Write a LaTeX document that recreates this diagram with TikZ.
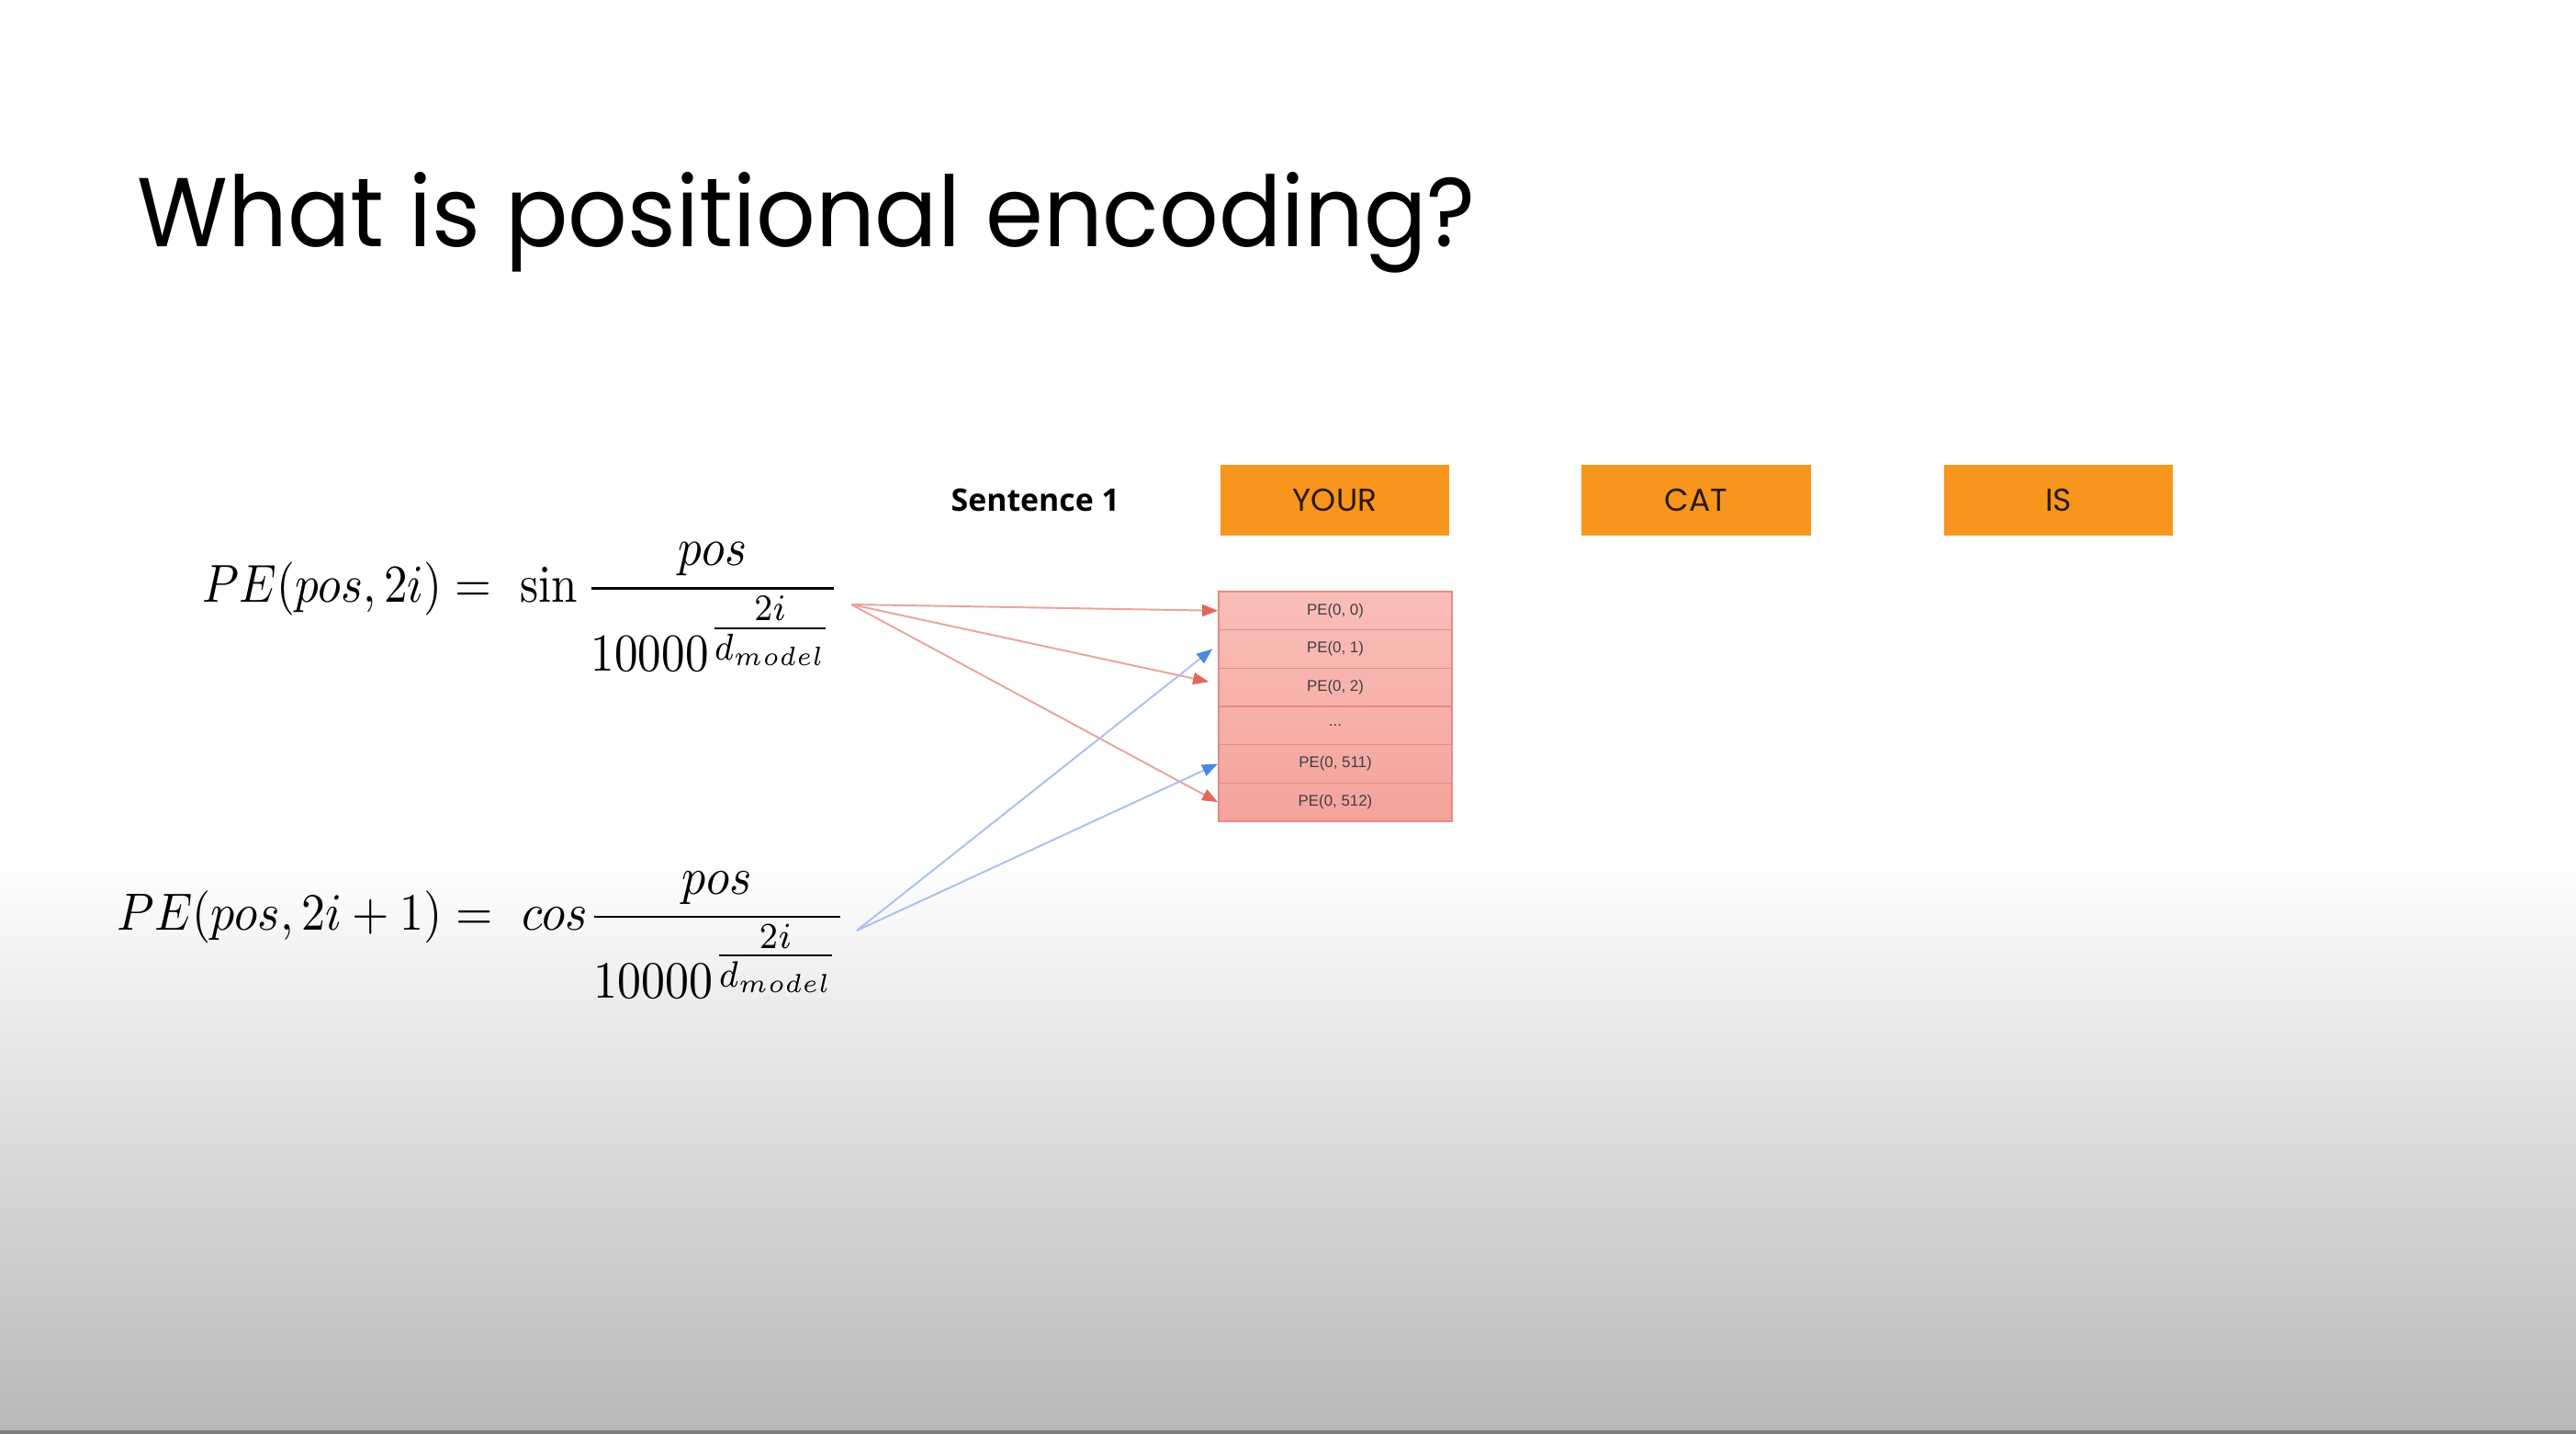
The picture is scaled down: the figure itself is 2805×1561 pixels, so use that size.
\documentclass[tikz,border=0pt]{standalone}
\usepackage{fontspec}
\usepackage{amsmath}
\usetikzlibrary{arrows.meta,calc}
\newfontfamily\titlefont{Poppins}
\newfontfamily\labelfont{Open Sans}
\newfontfamily\cellfont{Liberation Sans}

\definecolor{tokenorange}{HTML}{F8951D}
\definecolor{tokentext}{HTML}{2A1A0A}
\definecolor{celltop}{HTML}{F9BEB9}
\definecolor{cellbot}{HTML}{F4A39B}
\definecolor{cellrule}{HTML}{E58A82}
\definecolor{celltext}{HTML}{404040}
\definecolor{sinline}{HTML}{EBA39B}
\definecolor{sinhead}{HTML}{E2685C}
\definecolor{cosline}{HTML}{A8C2EC}
\definecolor{coshead}{HTML}{4A89E0}
\definecolor{floorgray}{HTML}{B8B8B8}
\definecolor{edgegray}{HTML}{7E7E7E}

% denominator of the positional-encoding frequency term
\newcommand{\peden}{10000^{\textstyle\frac{\scriptstyle 2i}{\scriptstyle d_{model}}}}

\begin{document}
\begin{tikzpicture}[x=0.01cm,y=-0.01cm,
  tokenbox/.style={fill=tokenorange, minimum width=2.49cm, minimum height=0.77cm,
    inner sep=0, font=\titlefont\fontsize{9.8}{11}\selectfont, text=tokentext},
  cell/.style={draw=cellrule, line width=0.45pt, minimum width=2.54cm,
    minimum height=0.4167cm, inner sep=0,
    font=\cellfont\fontsize{4.8}{6}\selectfont, text=celltext},
  sinarrow/.style={draw=sinline, line width=0.55pt,
    -{Triangle[length=0.17cm,width=0.13cm,color=sinhead]}},
  cosarrow/.style={draw=cosline, line width=0.55pt,
    -{Triangle[length=0.17cm,width=0.13cm,color=coshead]}},
  formula/.style={anchor=base west, inner sep=0}
]
\useasboundingbox (0,0) rectangle (2805,1561);

% slide background: white fading to grey at the bottom
\fill[white] (0,0) rectangle (2805,1561);
\shade[top color=white, bottom color=floorgray] (0,930) rectangle (2805,1556);
\fill[edgegray] (0,1557) rectangle (2805,1561);

% heading
\node[anchor=base west, inner sep=0] (title) at (149,269)
  {\resizebox{14.56cm}{0.81cm}{\titlefont What is positional encoding?}};

% sentence tokens
\node[anchor=base west, inner sep=0] (sent) at (1035,557)
  {\resizebox{1.83cm}{!}{\labelfont\bfseries Sentence 1}};
\node[tokenbox] (your) at (1453.5,544.5) {YOUR};
\node[tokenbox] (cat)  at (1847,544.5)   {CAT};
\node[tokenbox] (is)   at (2241.5,544.5) {IS};

% positional-encoding vector of the first token
\shade[top color=celltop, bottom color=cellbot] (1327,644) rectangle (1581,894);
\node[cell] (c0) at (1454,664.8) {PE(0, 0)};
\node[cell] (c1) at (1454,706.5) {PE(0, 1)};
\node[cell] (c2) at (1454,748.2) {PE(0, 2)};
\node[cell] (c3) at (1454,789.8) {...};
\node[cell] (c4) at (1454,831.5) {PE(0, 511)};
\node[cell] (c5) at (1454,873.2) {PE(0, 512)};

% formulas
\node[formula] (sinf) at (220,655)
  {\resizebox*{6.93cm}{1.40cm}{$\displaystyle PE(pos,2i) =\mskip6mu \sin\frac{pos}{\peden}$}};
\node[formula] (cosf) at (127,1012)
  {\resizebox*{7.93cm}{1.375cm}{$\displaystyle PE(pos,2i+1) =\mskip6mu cos\frac{pos}{\peden}$}};

% even dimensions take the sine, odd dimensions the cosine
\coordinate (sinsrc) at (927,658);
\coordinate (cossrc) at (933,1013);
\draw[sinarrow] (sinsrc) -- (c0.west);
\draw[sinarrow] (sinsrc) -- ($(c2.west)+(-10,-6)$);
\draw[sinarrow] (sinsrc) -- (c5.west);
\draw[cosarrow] (cossrc) -- ($(c1.west)+(-6,0)$);
\draw[cosarrow] (cossrc) -- (c4.west);
\end{tikzpicture}
\end{document}
